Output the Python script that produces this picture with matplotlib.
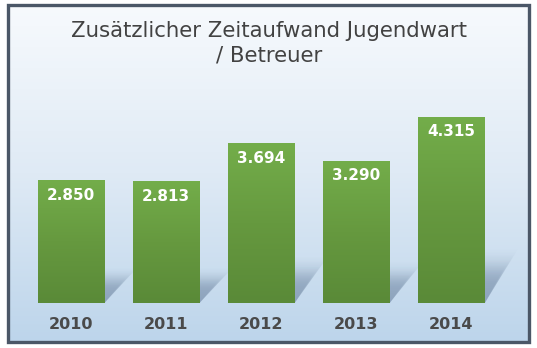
import numpy as np
import matplotlib.pyplot as plt
from matplotlib.patches import Rectangle, Polygon
from matplotlib.colors import LinearSegmentedColormap

years = ["2010", "2011", "2012", "2013", "2014"]
hours = [2850, 2813, 3694, 3290, 4315]
labels = ["2.850", "2.813", "3.694", "3.290", "4.315"]
title = "Zusätzlicher Zeitaufwand Jugendwart\n/ Betreuer"

W, H = 537, 348
fig = plt.figure(figsize=(W / 100, H / 100), dpi=100)

# background panel with gradient and frame
bg = fig.add_axes([0, 0, 1, 1])
bg.set_xlim(0, W)
bg.set_ylim(H, 0)
bg.axis("off")
bg_cmap = LinearSegmentedColormap.from_list("bg", ["#f7fafd", "#dfeaf5", "#bdd5eb"])
grad = np.linspace(0, 1, 256).reshape(-1, 1)
bg.imshow(grad, cmap=bg_cmap, extent=[8, 529, 341, 5], aspect="auto", zorder=0)
bg.add_patch(Rectangle((7.5, 5), 521.5, 336.5, fill=False, ec="#4b5767", lw=2.4, zorder=2))
bg.text(269, 43, title, ha="center", va="center", fontsize=15.3,
        color="#424242", linespacing=1.28, family="DejaVu Sans")

# bar axes (a bit wider on the right so the last shadow is not cut)
unit = 95.1
ax = fig.add_axes([23.5 / W, 45 / H, 5.4 * unit / W, 216 / H])
ax.patch.set_alpha(0)
for s in ax.spines.values():
    s.set_visible(False)
ax.set_yticks([])
ax.set_xticks(range(len(years)))
ax.set_xticklabels(years, fontsize=11.5, fontweight="bold", color="#4a4a4a")
ax.tick_params(axis="x", length=0, pad=10)

bar_w = 0.7
shadow_cmap = LinearSegmentedColormap.from_list(
    "sh", [(0.45, 0.54, 0.65, 0.0), (0.45, 0.54, 0.65, 0.5), (0.45, 0.54, 0.65, 0.6)])
green_cmap = LinearSegmentedColormap.from_list("gr", ["#5a8a38", "#66993f", "#73ad4a"])

for i, v in enumerate(hours):
    x0 = i - bar_w / 2
    x1 = x0 + bar_w
    # soft shadow, bar sheared to the back right, a few layers for blur
    for dx, k in [(0.22, 0.20), (0.27, 0.23), (0.31, 0.26), (0.35, 0.29)]:
        hs = v * k
        poly = Polygon([(x0, 0), (x1, 0), (x1 + dx, hs), (x0 + dx, hs)],
                       closed=True, fc="none", ec="none")
        ax.add_patch(poly)
        im = ax.imshow(np.linspace(1, 0, 64).reshape(-1, 1), cmap=shadow_cmap,
                       extent=[x0, x1 + dx, 0, hs], aspect="auto",
                       origin="lower", zorder=1, alpha=0.4)
        im.set_clip_path(poly)
    # green gradient bar
    rect = Rectangle((x0, 0), bar_w, v, fc="none", ec="none")
    ax.add_patch(rect)
    im2 = ax.imshow(np.linspace(0, 1, 64).reshape(-1, 1), cmap=green_cmap,
                    extent=[x0, x1, 0, v], aspect="auto",
                    origin="lower", zorder=2)
    im2.set_clip_path(rect)
    ax.text(i, v - 350, labels[i], ha="center", va="center", fontsize=11,
            fontweight="bold", color="white", zorder=3)

ax.set_xlim(-0.5, 4.9)
ax.set_ylim(0, 5000)

fig.savefig("out.png", dpi=100)
